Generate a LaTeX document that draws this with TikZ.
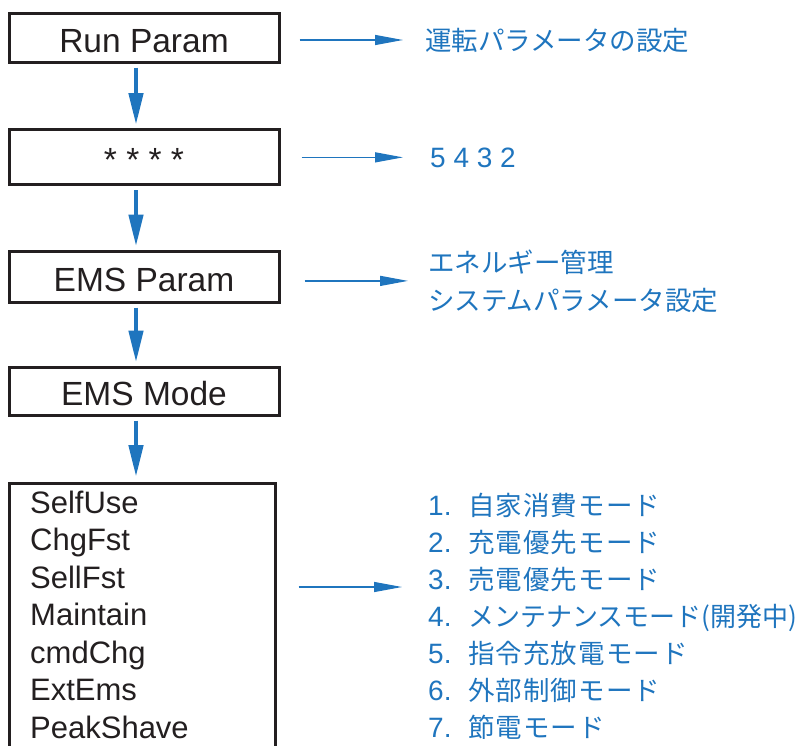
\documentclass[tikz,border=0pt]{standalone}
\usepackage{fontspec}
\setmainfont{Liberation Sans}
\newfontfamily\jpfont{Noto Sans CJK JP}
\newfontfamily\jpwide[LetterSpace=4]{Noto Sans CJK JP}
\usetikzlibrary{arrows.meta,calc}
\definecolor{ink}{HTML}{231F20}
\definecolor{flowblue}{HTML}{1F75BE}

\begin{document}
\begin{tikzpicture}[x=1pt,y=-1pt,
  menu/.style={draw=ink,line width=3pt,minimum width=270pt,inner sep=0pt,text=ink,
    text height=29pt,text depth=0pt,font=\fontsize{33.5}{40}\selectfont},
  vflow/.style={flowblue,line width=4.5pt,-{Triangle[length=32pt,width=14pt]},
    shorten <=4pt,shorten >=3pt},
  hflow/.style={flowblue,line width=1.3pt,-{Triangle[length=28pt,width=10pt]}},
  note/.style={flowblue,anchor=base west,inner sep=0pt,font=\jpfont\fontsize{26.5}{32}\selectfont},
  item/.style={flowblue,anchor=base west,inner sep=0pt,font=\jpwide\fontsize{26.5}{32}\selectfont},
  num/.style={flowblue,anchor=base west,inner sep=0pt,font=\fontsize{28}{34}\selectfont},
  mode/.style={ink,anchor=base west,inner sep=0pt,font=\fontsize{31}{37}\selectfont}]
  \clip (0,0) rectangle (801,745);
  % menu boxes
  \node[menu,minimum height=49pt] (run) at (144,37.5) {Run Param};
  \node[menu,minimum height=55pt] (pwd) at (144,157) {* * * *};
  \node[menu,minimum height=51pt] (emsp) at (144,276.5) {EMS Param};
  \node[menu,minimum height=48pt] (emsm) at (144,391) {EMS Mode};
  \node[draw=ink,line width=3pt,minimum width=266pt,minimum height=300pt,anchor=north] (modebox) at (142,482) {};
  \draw[vflow] ([xshift=-8pt]run.south) -- ([xshift=-8pt]pwd.north);
  \draw[vflow] ([xshift=-8pt]pwd.south) -- ([xshift=-8pt]emsp.north);
  \draw[vflow] ([xshift=-8pt]emsp.south) -- ([xshift=-8pt]emsm.north);
  \draw[vflow,shorten >=5pt] ([xshift=-8pt]emsm.south) -- ([xshift=-8pt]emsm.south |- modebox.north);
  % mode names
  \node[mode] (m1) at (30,513) {SelfUse};
  \node[mode] (m2) at (30,550.5) {ChgFst};
  \node[mode] (m3) at (30,588) {SellFst};
  \node[mode] (m4) at (30,625.5) {Maintain};
  \node[mode] (m5) at (30,663) {cmdChg};
  \node[mode] (m6) at (30,700.5) {ExtEms};
  \node[mode] (m7) at (30,738) {PeakShave};
  % notes
  \node[note] (runnote) at (425,50) {運転パラメータの設定};
  \node[num] (pwdnote) at (430,167) {5 4 3 2};
  \node[note] (emsnote1) at (428,272) {エネルギー管理};
  \node[note] (emsnote2) at (428,310) {システムパラメータ設定};
  \node[num] (n1) at (428,515) {1.};
  \node[num] (n2) at (428,552) {2.};
  \node[num] (n3) at (428,589) {3.};
  \node[num] (n4) at (428,626) {4.};
  \node[num] (n5) at (428,663) {5.};
  \node[num] (n6) at (428,700) {6.};
  \node[num] (n7) at (428,737) {7.};
  \node[item] (j1) at (468,515) {自家消費モード};
  \node[item] (j2) at (468,552) {充電優先モード};
  \node[item] (j3) at (468,589) {売電優先モード};
  \node[note] (j4) at (468,626) {\scalebox{0.98}[1]{メンテナンスモード(開発中)}};
  \node[item] (j5) at (468,663) {指令充放電モード};
  \node[item] (j6) at (468,700) {外部制御モード};
  \node[item] (j7) at (468,737) {節電モード};
  \coordinate (modeto) at (402,587);
  \draw[hflow,shorten <=19pt,shorten >=22pt] (run.east |- runnote.west) -- (runnote.west);
  \draw[hflow,shorten <=21pt,shorten >=27pt] (pwd.east |- pwdnote.west) -- (pwdnote.west);
  \draw[hflow,shorten <=24pt,shorten >=20pt] (emsp.east |- {$(emsnote1.west)!.5!(emsnote2.west)$}) -- ($(emsnote1.west)!.5!(emsnote2.west)$);
  \draw[hflow,shorten <=22pt] (modebox.east |- modeto) -- (modeto);
\end{tikzpicture}
\end{document}
